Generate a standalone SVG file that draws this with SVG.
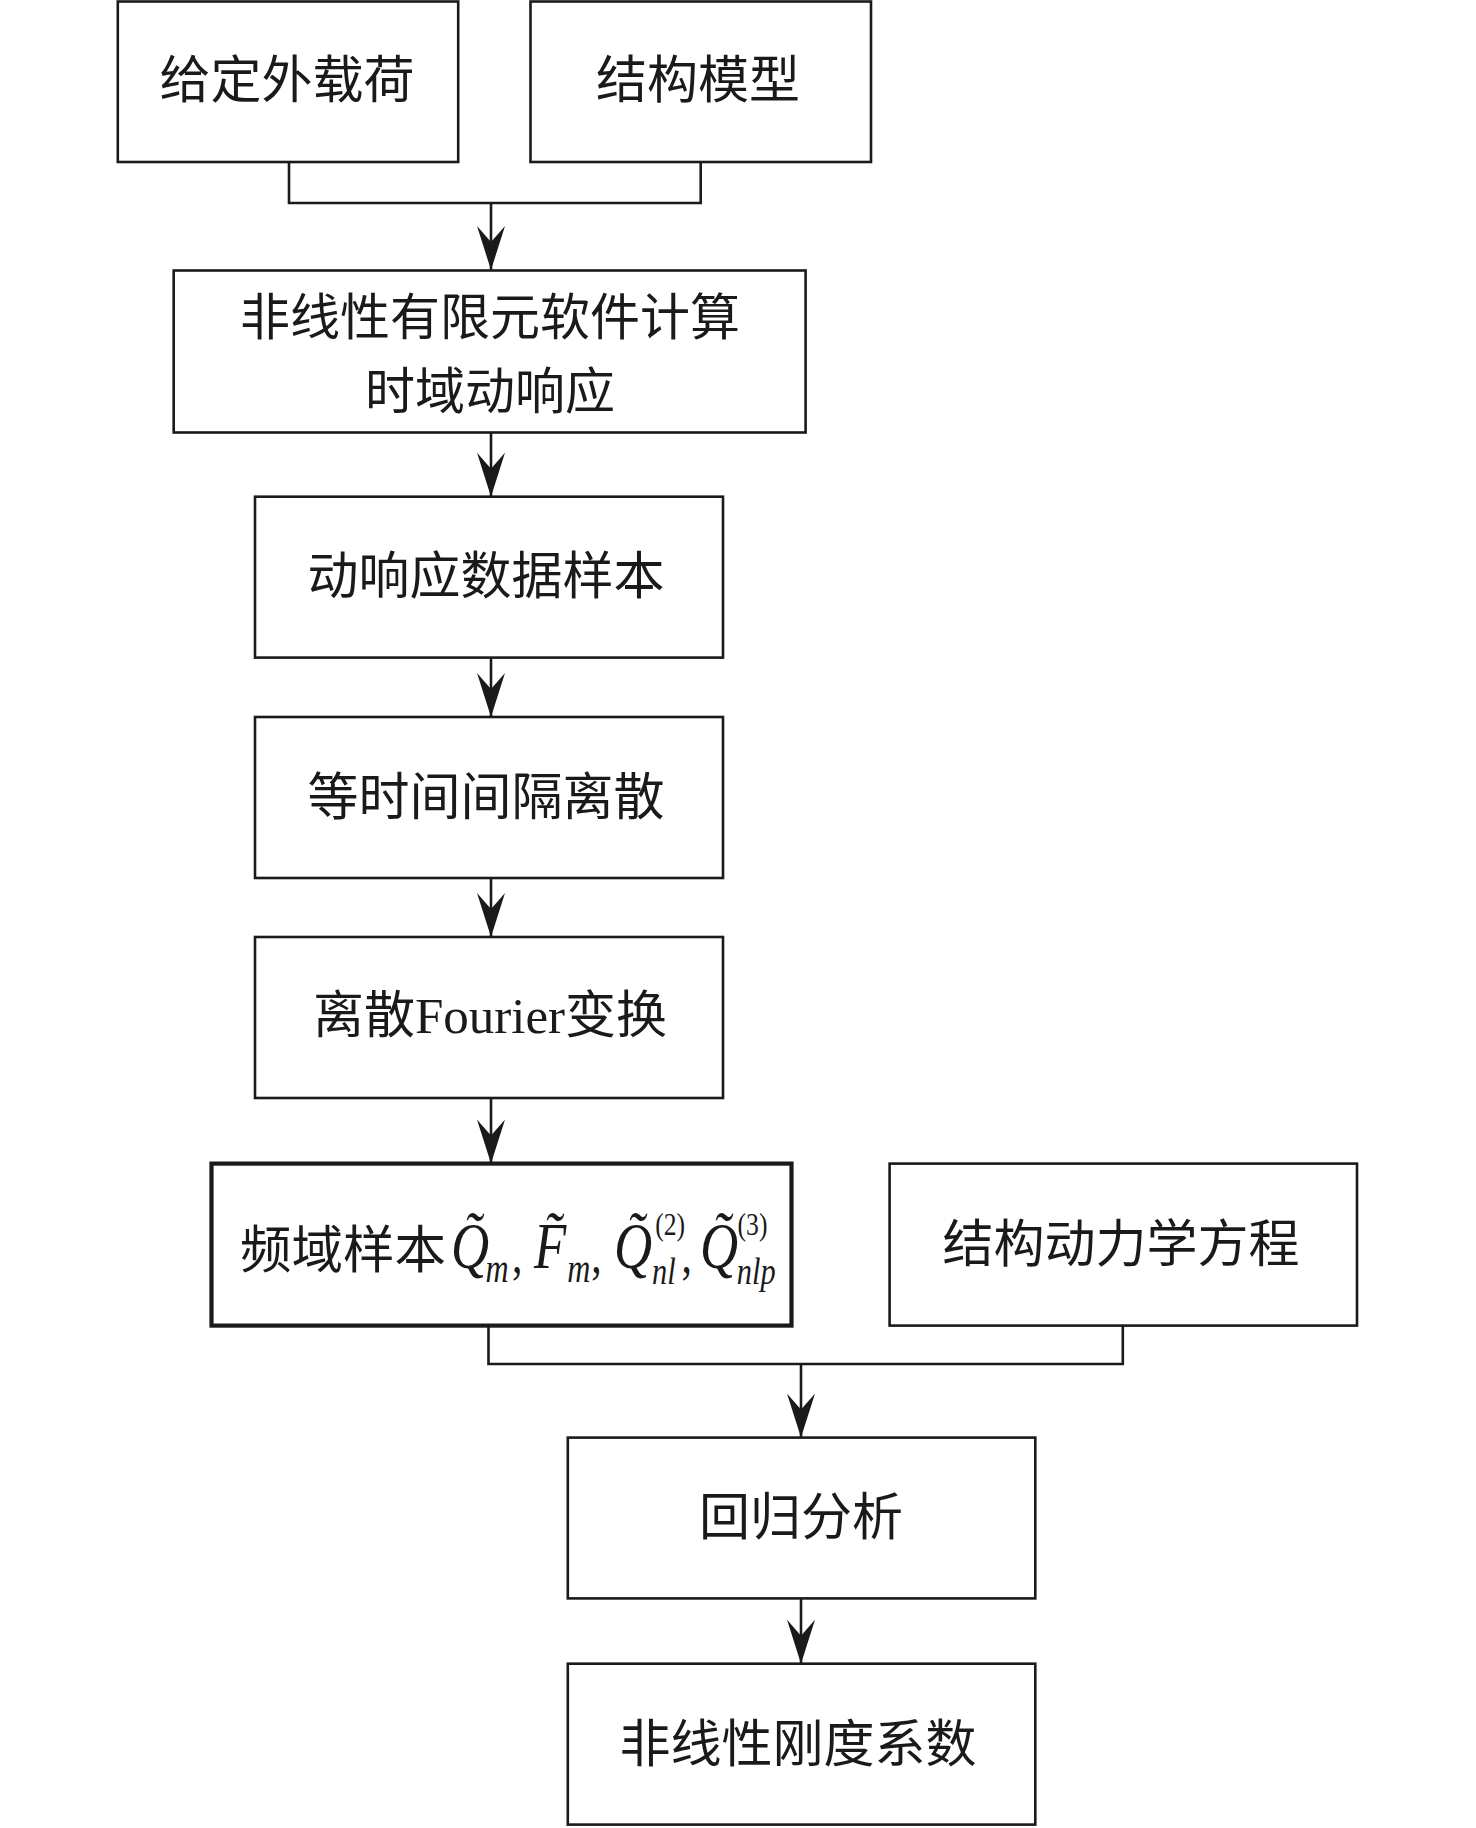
<svg xmlns="http://www.w3.org/2000/svg" width="1476" height="1828" viewBox="0 0 1476 1828">
<style>
.box{fill:#fff;stroke:#1a1a1a;stroke-width:2.6}
.boxb{fill:#fff;stroke:#1a1a1a;stroke-width:4.2}
.lbl{font-family:"Noto Sans CJK SC","Noto Sans CJK TC",sans-serif;font-size:51px;fill:#1a1a1a;text-anchor:middle}
.lbll{font-family:"Noto Sans CJK SC","Noto Sans CJK TC",sans-serif;font-size:51px;fill:#1a1a1a}
.lat{font-family:"Liberation Serif",serif}
.mi{font-family:"Liberation Serif",serif;font-style:italic;fill:#1a1a1a}
.mr{font-family:"Liberation Serif",serif;font-style:normal;fill:#1a1a1a}
.ln{fill:none;stroke:#1a1a1a;stroke-width:2.6}
</style>
<defs>
<marker id="ah" viewBox="0 0 44 28" refX="44" refY="14" markerWidth="44" markerHeight="28" markerUnits="userSpaceOnUse" orient="auto">
<path d="M0,0 L44,14 L0,28 L16,14 Z" fill="#1a1a1a"/>
</marker>
</defs>
<rect width="1476" height="1828" fill="#fff"/>
<g id="connectors">
<path class="ln" d="M289,162 V203 H700.7 V162"/>
<path class="ln" d="M491,203 V270" marker-end="url(#ah)"/>
<path class="ln" d="M491,432.5 V496.7" marker-end="url(#ah)"/>
<path class="ln" d="M491,657.6 V717" marker-end="url(#ah)"/>
<path class="ln" d="M491,878 V937" marker-end="url(#ah)"/>
<path class="ln" d="M491,1098 V1163.6" marker-end="url(#ah)"/>
<path class="ln" d="M488.5,1325.6 V1364 H1122.8 V1325.6"/>
<path class="ln" d="M801,1364 V1437.6" marker-end="url(#ah)"/>
<path class="ln" d="M801,1598.4 V1663.7" marker-end="url(#ah)"/>
</g>
<g id="n1">
<rect class="box" x="117.8" y="1.5" width="340.4" height="160.5"/>
<text class="lbl" x="287" y="98">给定外载荷</text>
</g>
<g id="n2">
<rect class="box" x="530.5" y="1.5" width="340.5" height="160.5"/>
<text class="lbl" x="698" y="98">结构模型</text>
</g>
<g id="n3">
<rect class="box" x="173.7" y="270.5" width="631.9" height="162"/>
<text class="lbl" x="490" y="335" style="font-size:50px">非线性有限元软件计算</text>
<text class="lbl" x="490" y="409" style="font-size:50px">时域动响应</text>
</g>
<g id="n4">
<rect class="box" x="255" y="496.7" width="468" height="160.9"/>
<text class="lbl" x="486" y="594">动响应数据样本</text>
</g>
<g id="n5">
<rect class="box" x="255" y="717" width="468" height="161"/>
<text class="lbl" x="486" y="815">等时间间隔离散</text>
</g>
<g id="n6">
<rect class="box" x="255" y="937" width="468" height="161"/>
<text class="lbl" x="490" y="1033">离散<tspan class="lat">Fourier</tspan>变换</text>
</g>
<g id="n7">
<rect class="boxb" x="211.5" y="1163.6" width="580" height="162"/>
<text class="lbll" x="240" y="1268" textLength="206" lengthAdjust="spacingAndGlyphs">频域样本</text>
<g transform="scale(0.8 1)">
<text class="mi" font-size="66"><tspan x="563.75" y="1268">Q&#x303;</tspan><tspan x="607" y="1282" font-size="40">m</tspan><tspan class="mr" x="640" y="1272" font-size="52">,</tspan><tspan x="667.5" y="1268">F&#x303;</tspan><tspan x="709" y="1282" font-size="40">m</tspan><tspan class="mr" x="739" y="1272" font-size="52">,</tspan><tspan x="767.5" y="1268">Q&#x303;</tspan><tspan class="mr" x="819" y="1235" font-size="32">(2)</tspan><tspan x="815" y="1284" font-size="38">nl</tspan><tspan class="mr" x="852" y="1272" font-size="52">,</tspan><tspan x="875" y="1268">Q&#x303;</tspan><tspan class="mr" x="922" y="1235" font-size="32">(3)</tspan><tspan x="921" y="1284" font-size="38">nlp</tspan></text>
</g>
</g>
<g id="n8">
<rect class="box" x="889.6" y="1163.6" width="467.4" height="162"/>
<text class="lbl" x="1121" y="1262">结构动力学方程</text>
</g>
<g id="n9">
<rect class="box" x="567.8" y="1437.6" width="467.5" height="160.8"/>
<text class="lbl" x="801" y="1535">回归分析</text>
</g>
<g id="n10">
<rect class="box" x="567.8" y="1663.7" width="467.5" height="160.9"/>
<text class="lbl" x="798" y="1762">非线性刚度系数</text>
</g>
</svg>
